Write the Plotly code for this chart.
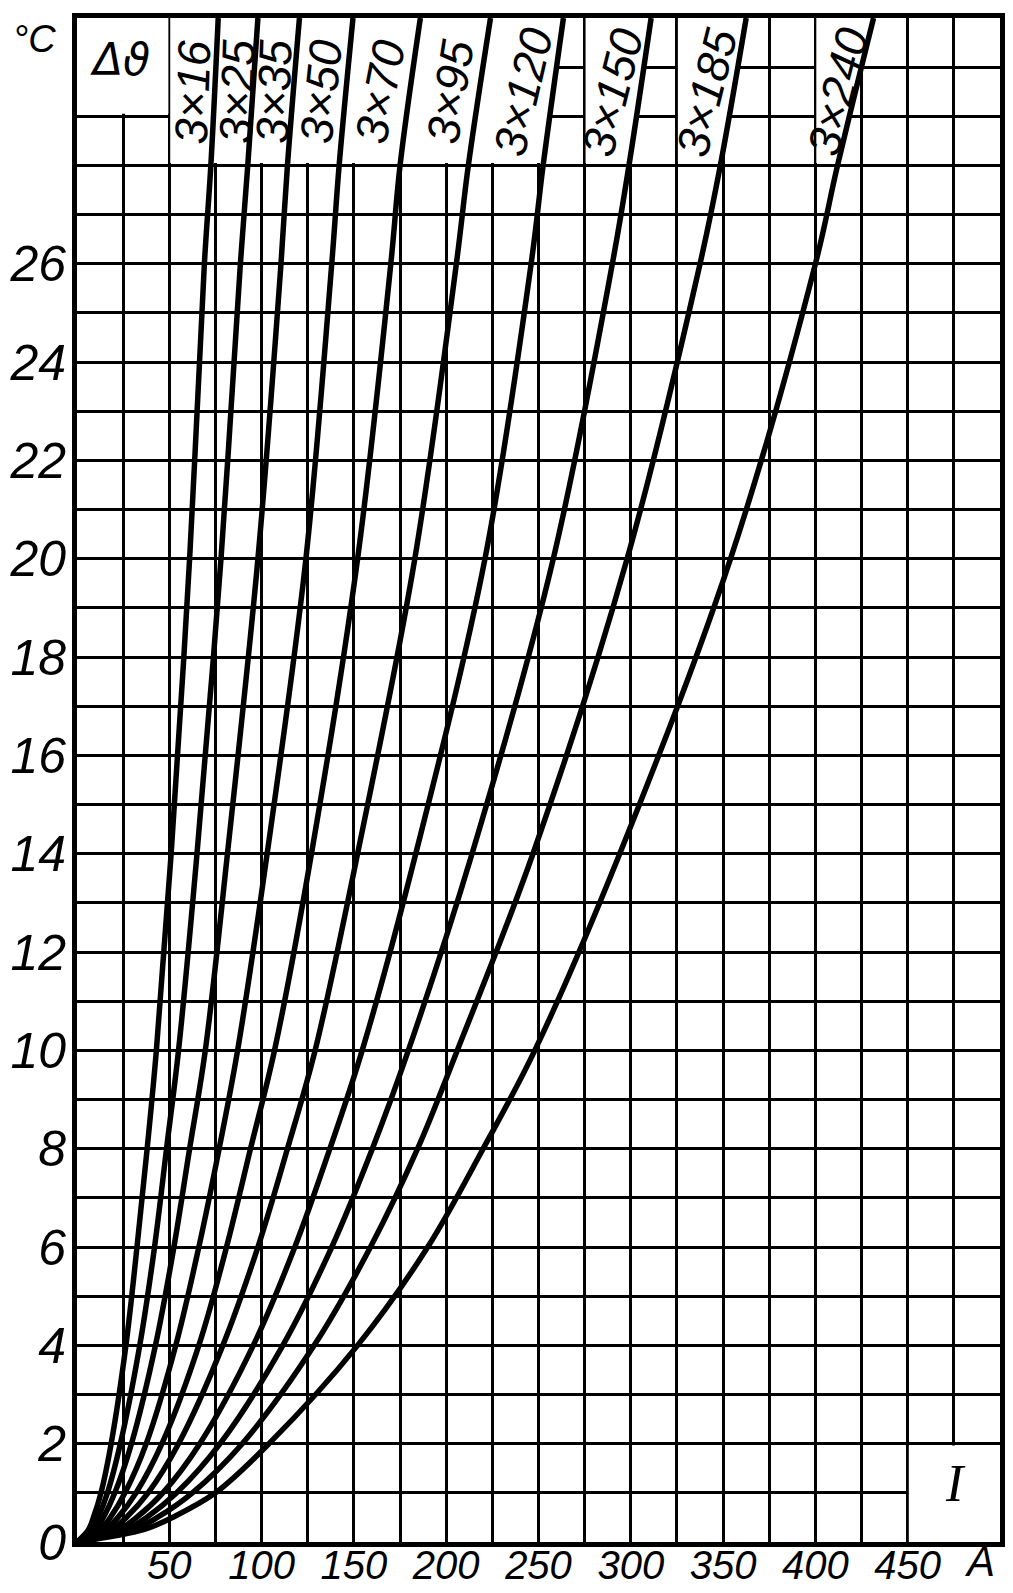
import plotly.graph_objects as go

# ---------------- data ----------------
T_LEVELS = [0, 0.25, 0.5, 1, 2, 4, 6, 8, 10, 14, 20, 26, 28, 31]          # temperature rise, °C
CABLES = ["3×16", "3×25", "3×35", "3×50", "3×70",
          "3×95", "3×120", "3×150", "3×185", "3×240"]
# current I (A) at which each cable reaches the temperature levels above
I_3x16 = [0, 6.2, 8.9, 13, 18.5, 26.5, 32.5, 38, 43, 51, 61, 69, 72.5, 76.5]
I_3x25 = [0, 8, 11.4, 16.5, 23.5, 34, 42, 48.5, 55, 65, 78, 88.5, 92.5, 98]
I_3x35 = [0, 10, 14.3, 20.5, 29.5, 42.5, 52.5, 61, 69.5, 81.5, 98, 110.5, 114, 120.5]
I_3x50 = [0, 12.6, 18.1, 26, 37.5, 53.5, 66, 77, 87, 103, 124, 138, 142, 149.5]
I_3x70 = [0, 15.5, 22.2, 32, 46, 66, 81, 94, 107, 127, 152, 170, 175, 186]
I_3x95 = [0, 18.7, 26.7, 38.5, 55, 79, 98, 114, 129, 152, 183, 205.5, 212, 224]
I_3x120 = [0, 22.5, 32.3, 46.5, 66.5, 95.5, 118, 137, 154.5, 183.5, 221, 246, 252.5, 263.5]
I_3x150 = [0, 26.3, 37.7, 54, 77.5, 111.5, 138, 160, 179.5, 214, 258, 290, 299, 311]
I_3x185 = [0, 30.4, 43.5, 62.5, 89.5, 128.5, 159, 184.5, 206, 247, 298, 337.5, 348.5, 362.5]
I_3x240 = [0, 36, 51.7, 75, 104, 152, 190, 220, 248, 294, 354, 400, 412, 431.5]
CURVES = [I_3x16, I_3x25, I_3x35, I_3x50, I_3x70,
          I_3x95, I_3x120, I_3x150, I_3x185, I_3x240]

X_TICKS = [50, 100, 150, 200, 250, 300, 350, 400, 450]
Y_TICKS = [0, 2, 4, 6, 8, 10, 12, 14, 16, 18, 20, 22, 24, 26]

# ---------------- layout helpers ----------------
X_RANGE = [0, 500]
Y_RANGE = [0, 31]
STRIP_BOTTOM = 28          # label strip at the top of the chart
LABEL_I = [62.5, 86.5, 106.5, 132, 164, 202, 241.5, 290, 341, 412]
LABEL_T = 29.5
LABEL_ANGLE = [-88, -88, -88, -84, -79, -81, -77, -76, -76, -76]
# white label boxes: (left grid value, index of curve forming the right edge)
BOXES = [(50, 6), (275, 7), (325, 8), (400, 9)]

FONT = "Liberation Sans, DejaVu Sans, sans-serif"
BLACK = "black"

fig = go.Figure()

i28 = T_LEVELS.index(STRIP_BOTTOM)
i31 = T_LEVELS.index(Y_RANGE[1])


def white_poly(xs, ys):
    fig.add_trace(go.Scatter(x=xs, y=ys, mode="lines", fill="toself",
                             fillcolor="white", line=dict(width=0, color="white"),
                             hoverinfo="skip", showlegend=False))


# blank areas that hide the grid behind the labels
for left, ci in BOXES:
    c = CURVES[ci]
    white_poly([left + 0.5, c[i28], c[i31], left + 0.5, left + 0.5],
               [STRIP_BOTTOM + 0.05, STRIP_BOTTOM + 0.05, Y_RANGE[1], Y_RANGE[1], STRIP_BOTTOM + 0.05])
# box of the Δϑ symbol
white_poly([X_RANGE[0], X_TICKS[0] - 0.5, X_TICKS[0] - 0.5, X_RANGE[0], X_RANGE[0]],
           [29.05, 29.05, Y_RANGE[1], Y_RANGE[1], 29.05])
# box of the "I" symbol
white_poly([X_TICKS[-1] + 0.6, X_RANGE[1], X_RANGE[1], X_TICKS[-1] + 0.6, X_TICKS[-1] + 0.6],
           [Y_RANGE[0], Y_RANGE[0], 1.965, 1.965, Y_RANGE[0]])

for name, I in zip(CABLES, CURVES):
    fig.add_trace(go.Scatter(x=I, y=T_LEVELS, mode="lines", name=name,
                             line=dict(color=BLACK, width=5.5, shape="spline", smoothing=1.0),
                             showlegend=False))

annotations = []
for name, xi, ang in zip(CABLES, LABEL_I, LABEL_ANGLE):
    annotations.append(dict(x=xi, y=LABEL_T, text=name, showarrow=False, textangle=ang,
                            font=dict(family=FONT, size=46, color=BLACK, style="italic")))
annotations += [
    dict(x=23.5, y=30.15, text="Δϑ", showarrow=False,
         font=dict(family="DejaVu Sans", size=44, color=BLACK, style="italic")),
    dict(x=-0.046, xref="paper", y=0.986, yref="paper", xanchor="center", yanchor="middle",
         text="°C", showarrow=False,
         font=dict(family=FONT, size=38, color=BLACK, style="italic")),
    dict(x=489, xref="x", y=-0.0125, yref="paper", xanchor="center", yanchor="middle",
         text="A", showarrow=False,
         font=dict(family=FONT, size=42, color=BLACK, style="italic")),
    dict(x=476, y=1.2, text="I", showarrow=False,
         font=dict(family="Liberation Serif", size=52, color=BLACK, style="italic")),
]

grid = dict(showgrid=True, gridcolor=BLACK, gridwidth=3)
# the page body adds an 8 px offset, so the figure is drawn 8 px smaller
fig.update_layout(
    width=1005, height=1585,
    margin=dict(l=69, r=13, t=10, b=51, autoexpand=False),
    paper_bgcolor="white", plot_bgcolor="white",
    showlegend=False,
    annotations=annotations,
    xaxis=dict(range=X_RANGE, tickvals=X_TICKS, ticktext=[str(v) for v in X_TICKS],
               ticks="", zeroline=False, showline=True, linecolor=BLACK, linewidth=5, mirror=True,
               minor=dict(dtick=25, tick0=0, ticks="", **grid), **grid, automargin=False,
               tickfont=dict(family=FONT, size=40, color=BLACK, style="italic"),
               ticklabelstandoff=-16),
    yaxis=dict(range=Y_RANGE, tickvals=Y_TICKS, ticktext=[str(v) for v in Y_TICKS],
               ticks="", zeroline=False, showline=True, linecolor=BLACK, linewidth=5, mirror=True,
               minor=dict(dtick=1, tick0=0, ticks="", **grid), **grid, automargin=False,
               tickfont=dict(family=FONT, size=50, color=BLACK, style="italic"),
               ticklabelstandoff=-4),
)

fig.write_html("out.html")
